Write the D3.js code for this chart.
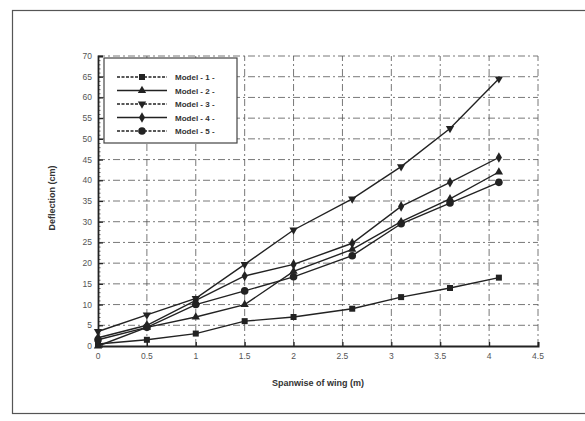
<!DOCTYPE html>
<html lang="en">
<head>
    <meta charset="UTF-8">
    <title>Deflection vs spanwise of wing</title>
    <script src="https://d3js.org/d3.v7.min.js"></script>
    <style>
        body {
            margin: 0;
            background: #fff;
        }
        svg text {
            font-family: "Liberation Sans", Arial, sans-serif;
        }
    </style>
</head>
<body>
    <div id="chart"></div>

    <script>
        // spanwise stations (m)
        const stations = [0, 0.5, 1, 1.5, 2, 2.6, 3.1, 3.6, 4.1];

        // deflection (cm) for each model
        const model1 = [0.5, 1.5, 3, 6, 7, 9, 11.8, 14, 16.5];
        const model2 = [0, 4.5, 7, 10, 18, 23.3, 30, 35.5, 42];
        const model3 = [3.5, 7.5, 11.5, 19.7, 28, 35.5, 43.3, 52.5, 64.5];
        const model4 = [2, 5, 11, 16.9, 19.7, 24.8, 33.7, 39.5, 45.5];
        const model5 = [1.5, 4.5, 10, 13.3, 16.7, 21.8, 29.5, 34.5, 39.5];

        const seriesNames = ["Model - 1 -", "Model - 2 -", "Model - 3 -", "Model - 4 -", "Model - 5 -"];
        const seriesValues = [model1, model2, model3, model4, model5];
        const seriesMarkers = ["square", "triangle", "triangleDown", "diamond", "circle"];

        const xTicks = [0, 0.5, 1, 1.5, 2, 2.5, 3, 3.5, 4, 4.5];
        const yTicks = [0, 5, 10, 15, 20, 25, 30, 35, 40, 45, 50, 55, 60, 65, 70];

        const width = 585, height = 421;
        const ink = "#222";

        const svg = d3.select("#chart").append("svg")
            .attr("width", width)
            .attr("height", height);

        // outer frame of the figure
        svg.append("rect")
            .attr("x", 12.5).attr("y", 10.5)
            .attr("width", 590).attr("height", 403)
            .attr("fill", "none")
            .attr("stroke", "#555")
            .attr("stroke-width", 1.2);

        const x = d3.scaleLinear().domain([0, 4.5]).range([98, 538]);
        const y = d3.scaleLinear().domain([0, 70]).range([346, 56]);

        // grid
        const grid = svg.append("g").attr("stroke", "#555").attr("stroke-width", 0.8)
            .attr("stroke-dasharray", "7,3,2,3");
        grid.selectAll(".vg").data(xTicks.slice(1)).enter().append("line")
            .attr("x1", d => x(d)).attr("x2", d => x(d))
            .attr("y1", y(0)).attr("y2", y(70));
        grid.selectAll(".hg").data(yTicks.slice(1)).enter().append("line")
            .attr("x1", x(0)).attr("x2", x(4.5))
            .attr("y1", d => y(d)).attr("y2", d => y(d));

        // y axis with inward ticks
        const yAxis = d3.axisRight(y).tickValues(yTicks).tickSize(5).tickFormat("");
        svg.append("g")
            .attr("transform", `translate(${x(0)},0)`)
            .call(yAxis)
            .call(g => g.select(".domain").attr("stroke", ink).attr("stroke-width", 1.8))
            .call(g => g.selectAll(".tick line").attr("stroke", ink).attr("stroke-width", 1.2));
        svg.append("g")
            .attr("transform", `translate(${x(0)},0)`)
            .call(d3.axisRight(y).tickValues(d3.range(0, 71, 1)).tickSize(2.5).tickFormat(""))
            .call(g => g.select(".domain").remove())
            .call(g => g.selectAll(".tick line").attr("stroke", ink).attr("stroke-width", 0.7));
        svg.append("g")
            .selectAll("text").data(yTicks).enter().append("text")
            .attr("x", x(0) - 6)
            .attr("y", d => y(d) + 3)
            .attr("text-anchor", "end")
            .attr("font-size", 8.5)
            .attr("fill", "#555")
            .text(d => d);

        // x axis with inward ticks
        svg.append("g")
            .attr("transform", `translate(0,${y(0)})`)
            .call(d3.axisTop(x).tickValues(xTicks).tickSize(4).tickFormat(""))
            .call(g => g.select(".domain").attr("stroke", ink).attr("stroke-width", 2))
            .call(g => g.selectAll(".tick line").attr("stroke", ink).attr("stroke-width", 1.2));
        svg.append("g")
            .selectAll("text").data(xTicks).enter().append("text")
            .attr("x", d => x(d))
            .attr("y", y(0) + 13)
            .attr("text-anchor", "middle")
            .attr("font-size", 8.5)
            .attr("fill", "#555")
            .text(d => d);

        // axis titles
        svg.append("text")
            .attr("x", 318).attr("y", 386)
            .attr("text-anchor", "middle")
            .attr("font-size", 9)
            .attr("font-weight", "bold")
            .attr("fill", "#333")
            .text("Spanwise of wing (m)");
        svg.append("text")
            .attr("transform", "translate(55,198) rotate(-90)")
            .attr("text-anchor", "middle")
            .attr("font-size", 9)
            .attr("font-weight", "bold")
            .attr("fill", "#333")
            .text("Deflection (cm)");

        // markers
        function marker(sel, type) {
            if (type === "square") {
                sel.append("rect").attr("x", -3).attr("y", -3).attr("width", 6).attr("height", 6).attr("fill", ink);
            } else if (type === "triangle") {
                sel.append("path").attr("d", d3.symbol(d3.symbolTriangle, 30)).attr("fill", ink);
            } else if (type === "triangleDown") {
                sel.append("path").attr("d", d3.symbol(d3.symbolTriangle, 30)).attr("transform", "rotate(180)").attr("fill", ink);
            } else if (type === "diamond") {
                sel.append("path").attr("d", d3.symbol(d3.symbolDiamond, 32)).attr("fill", ink);
            } else {
                sel.append("circle").attr("r", 3.8).attr("fill", ink);
            }
        }
        const dashes = [null, null, null, null, null];
        const legendDash = ["3,1.5", null, "3,1.5", null, "3,1.5"];

        const line = d3.line().x((d, i) => x(stations[i])).y(d => y(d));
        seriesValues.forEach((vals, k) => {
            svg.append("path")
                .datum(vals)
                .attr("d", line)
                .attr("fill", "none")
                .attr("stroke", ink)
                .attr("stroke-width", 1.4)
                .attr("stroke-dasharray", dashes[k]);
            svg.append("g").selectAll("g").data(vals).enter().append("g")
                .attr("transform", (d, i) => `translate(${x(stations[i])},${y(d)})`)
                .each(function () { marker(d3.select(this), seriesMarkers[k]); });
        });

        // legend
        const legend = svg.append("g");
        legend.append("rect")
            .attr("x", 104).attr("y", 58)
            .attr("width", 133).attr("height", 85)
            .attr("fill", "#fff")
            .attr("stroke", "#444")
            .attr("stroke-width", 1.2);
        seriesNames.forEach((name, k) => {
            const ry = 77 + k * 13.5;
            legend.append("line")
                .attr("x1", 117).attr("x2", 167)
                .attr("y1", ry).attr("y2", ry)
                .attr("stroke", ink).attr("stroke-width", 1.4)
                .attr("stroke-dasharray", legendDash[k]);
            const m = legend.append("g").attr("transform", `translate(142,${ry})`);
            marker(m, seriesMarkers[k]);
            legend.append("text")
                .attr("x", 175).attr("y", ry + 3)
                .attr("font-size", 8)
                .attr("font-weight", "bold")
                .attr("fill", "#333")
                .text(name);
        });
    </script>
</body>
</html>
